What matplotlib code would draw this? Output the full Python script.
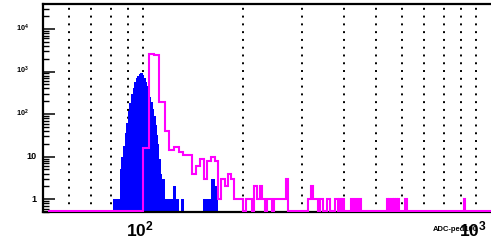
import numpy as np
import matplotlib.pyplot as plt
from matplotlib.ticker import LogLocator, NullFormatter
from matplotlib.transforms import offset_copy

plt.rcParams['font.family'] = ['Liberation Sans', 'DejaVu Sans']
plt.rcParams['mathtext.fontset'] = 'custom'
plt.rcParams['mathtext.rm'] = 'Liberation Sans:bold'
plt.rcParams['mathtext.bf'] = 'Liberation Sans:bold'
plt.rcParams['mathtext.it'] = 'Liberation Sans:bold'

# ---------------------data-----------------------
# blue histogram, 1 ADC bins around the peak (first bin starts at blue_start)
blue_start = 81
blue_core = [1, 1, 1, 1, 5, 10, 18, 35, 62, 115, 185, 290, 420, 580, 700, 800, 870, 910, 920,
             850, 720, 580, 450, 340, 250, 190, 130, 90, 55, 32, 20, 9, 4, 3, 3, 1, 1]
# blue tail pieces (low edge, high edge, counts)
blue_tail_lo = [118, 123, 126, 130, 151, 160, 164, 167]
blue_tail_hi = [123, 126, 128, 133, 160, 164, 167, 168]
blue_tail_n = [1, 2, 1, 1, 1, 3, 2, 1]

# magenta histogram, 4 ADC bins from 52 to 1112, only non-empty bins listed
mag_first_edge = 52
mag_last_edge = 1112
mag_bin_lo = [100, 104, 108, 112, 116, 120, 124, 128, 132, 136, 140, 144, 148, 152, 156, 160,
              164, 168, 172, 176, 180, 184, 188, 192, 196, 204, 208, 216, 220, 224, 228, 236,
              240, 248, 252, 256, 260, 264, 268, 312, 316, 320, 324, 328, 332, 340, 344, 356,
              360, 376, 380, 388, 396, 420, 424, 432, 436, 444, 448, 540, 548, 560, 568, 576,
              584, 612, 616, 920]
mag_counts = [16, 2620, 2500, 190, 39, 14, 17, 13, 11, 11, 4, 6, 9, 3, 8, 10,
              8, 1, 3, 2, 4, 3, 1, 1, 1, 1, 1, 2, 1, 2, 1, 1,
              1, 1, 1, 1, 1, 1, 3, 1, 1, 2, 1, 1, 1, 1, 1, 1,
              1, 1, 1, 1, 1, 1, 1, 1, 1, 1, 1, 1, 1, 1, 1, 1,
              1, 1, 1, 1]

y_tick_vals = [1, 10, 100, 1000, 10000]
y_tick_text = ['1', '10', r'$10^{2}$', r'$10^{3}$', r'$10^{4}$']
x_label_vals = [100, 1000]
x_label_text = [r'$10^{2}$', r'$10^{3}$']
x_title = 'ADC-ped100'

# ---------------------build histograms-----------------------
blue_edges = list(range(blue_start, blue_start + len(blue_core) + 1))
blue_vals = list(blue_core)
for lo, hi, n in zip(blue_tail_lo, blue_tail_hi, blue_tail_n):
    if lo > blue_edges[-1]:
        blue_vals.append(0)
        blue_edges.append(lo)
    blue_vals.append(n)
    blue_edges.append(hi)
blue_edges = np.array(blue_edges, dtype=float)
blue_vals = np.array(blue_vals, dtype=float)

mag_edges = np.arange(mag_first_edge, mag_last_edge + 1, 4)
mag_vals = np.zeros(len(mag_edges) - 1)
for lo, n in zip(mag_bin_lo, mag_counts):
    mag_vals[(lo - mag_first_edge) // 4] = n

# ---------------------plot-----------------------
y_lo, y_hi = 0.5, 3.8e4
x_lo, x_hi = 50, 1109
zero_level = 0.54   # where empty magenta bins are drawn

fig = plt.figure(figsize=(4.91, 2.45), dpi=100)
ax = fig.add_axes([42.8 / 491, 33 / 245, 1 - 42.8 / 491, (212 - 4.3) / 245])
ax.set_xscale('log')
ax.set_yscale('log')
ax.set_xlim(x_lo, x_hi)
ax.set_ylim(y_lo, y_hi)

ax.stairs(np.maximum(blue_vals, y_lo), blue_edges, baseline=y_lo, fill=True,
          color='#0000ff', lw=0, zorder=2)
ax.stairs(np.where(mag_vals > 0, mag_vals, zero_level), mag_edges, baseline=None,
          color='#ff00ff', lw=1.5, zorder=3)

# x axis: dotted grid at every log tick, no tick marks
ax.xaxis.set_major_locator(LogLocator(base=10))
ax.xaxis.set_minor_locator(LogLocator(base=10, subs=np.arange(2, 10)))
ax.xaxis.set_major_formatter(NullFormatter())
ax.xaxis.set_minor_formatter(NullFormatter())
ax.tick_params(axis='x', which='both', length=0)
ax.grid(True, axis='x', which='both', color='black', lw=1.4, linestyle=(0, (1, 3)))
ax.set_axisbelow(True)

# y axis: ticks pointing inwards, labels drawn by hand
ax.yaxis.set_major_locator(LogLocator(base=10))
ax.yaxis.set_minor_locator(LogLocator(base=10, subs=np.arange(2, 10)))
ax.yaxis.set_major_formatter(NullFormatter())
ax.yaxis.set_minor_formatter(NullFormatter())
ax.tick_params(axis='y', which='major', direction='in', length=8.6, width=1.1)
ax.tick_params(axis='y', which='minor', direction='in', length=4.0, width=1.0)

for side in ['left', 'top', 'bottom']:
    ax.spines[side].set_linewidth(1.6)
ax.spines['right'].set_visible(False)

for val, txt in zip(y_tick_vals, y_tick_text):
    if '^' in txt:
        tr = offset_copy(ax.get_yaxis_transform(), fig=fig, x=-14, y=1, units='dots')
        ax.text(0, val, txt, transform=tr, ha='right', va='center', fontsize=5.2)
    else:
        tr = offset_copy(ax.get_yaxis_transform(), fig=fig, x=-6.5, y=0, units='dots')
        ax.text(0, val, txt, transform=tr, ha='right', va='center', fontsize=6.5,
                fontweight='bold')

fig.text(433 / 491, 1 - 229.5 / 245, x_title, ha='left', va='center', fontsize=5.5,
         fontweight='bold', zorder=1)

for val, txt in zip(x_label_vals, x_label_text):
    tr = offset_copy(ax.get_xaxis_transform(), fig=fig, x=-3.5, y=-7, units='dots')
    ax.text(val, 0, txt, transform=tr, ha='center', va='top', fontsize=12.5,
            clip_on=False, zorder=5)

fig.savefig('out.png', dpi=100)
